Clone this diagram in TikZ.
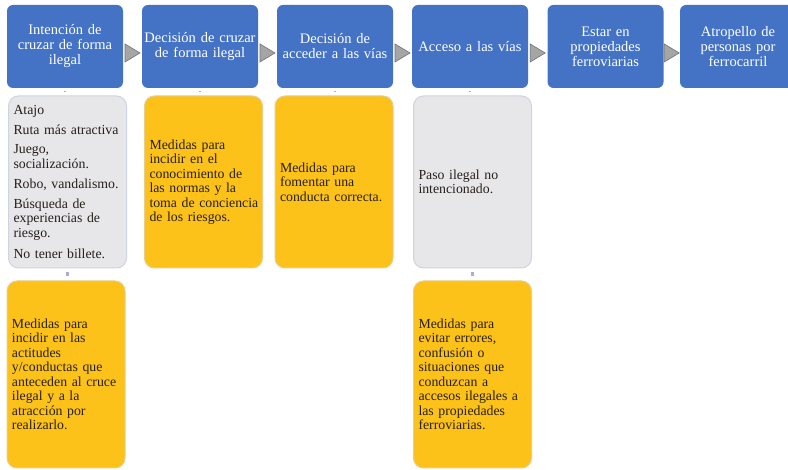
\documentclass[tikz,border=0pt]{standalone}
\usepackage{fontspec}
\setmainfont{Liberation Serif}
\newfontfamily\boxserif{Liberation Serif}
\newcommand\nohyph{\hyphenpenalty=10000\relax\exhyphenpenalty=10000\relax\hbadness=10000\relax}
\definecolor{topblue}{RGB}{68,114,196}
\definecolor{gold}{RGB}{252,194,25}
\definecolor{lgray}{RGB}{231,230,233}
\definecolor{edgegray}{RGB}{208,211,224}
\definecolor{edgegold}{RGB}{232,205,140}
\definecolor{trifill}{RGB}{165,165,165}
\definecolor{tridraw}{RGB}{115,115,115}
\definecolor{linkcol}{RGB}{172,172,214}
\definecolor{ink}{RGB}{38,32,26}
\begin{document}
\begin{tikzpicture}[x=1pt,y=-1pt,
  topbox/.style={fill=topblue, draw=none, rounded corners=6pt,
    minimum width=116pt, minimum height=83pt, text width=116pt,
    align=center, text=white, inner sep=0pt,
    font=\boxserif\fontsize{14.5}{15}\selectfont\nohyph},
  lowbox/.style={rounded corners=10pt, line width=1pt,
    minimum width=118pt, text width=108pt, align=left, text=ink,
    inner sep=0pt,
    font=\boxserif\fontsize{13.8}{14.5}\selectfont\nohyph},
  graybox/.style={lowbox, fill=lgray, draw=edgegray, minimum height=172pt},
  goldbox/.style={lowbox, fill=gold, draw=edgegold, minimum height=172pt},
  tallgold/.style={lowbox, fill=gold, draw=edgegold, minimum height=187pt},
  linkline/.style={draw=linkcol, line width=2.6pt},
  arrowtri/.style={fill=trifill, draw=tridraw, line width=0.6pt, line join=miter}
]
\useasboundingbox (0,0) rectangle (788,470);
\clip (0,0) rectangle (788,470);
\fill[white] (0,0) rectangle (788,470);

% top row
\node[topbox] (t1) at (65,46.5) {Intención de\\cruzar de forma\\ilegal};
\node[topbox] (t2) at (200,46.5) {Decisión de cruzar\\de forma ilegal};
\node[topbox] (t3) at (335,46.5) {Decisión de\\acceder a las vías};
\node[topbox] (t4) at (470,46.5) {Acceso a las vías};
\node[topbox] (t5) at (605.5,46.5) {Estar en\\propiedades\\ferroviarias};
\node[topbox] (t6) at (738,46.5) {Atropello de\\personas por\\ferrocarril};

% triangles between top boxes
\foreach \a/\b in {t1/t2,t2/t3,t3/t4,t4/t5,t5/t6}{
  \path (\a.east) -- (\b.west) coordinate[pos=0.5] (m\a);
  \draw[arrowtri] ([shift={(-7.5,-2.5)}]m\a) -- ([shift={(-7.5,15.5)}]m\a)
    -- ([shift={(7.5,6.5)}]m\a) -- cycle;
}

% second row
\node[graybox] (g1) at (67.5,182) {Atajo\\[5.5pt]
  Ruta~más~atractiva\\[5pt]
  Juego,\\socialización.\\[5.5pt]
  Robo,~vandalismo.\\[5.5pt]
  Búsqueda de\\experiencias~de\\riesgo.\\[6.5pt]
  No~tener~billete.};
\node[goldbox] (y2) at (203.5,182) {Medidas para\\incidir en el\\conocimiento~de\\las~normas~y~la\\toma~de~conciencia\\de~los~riesgos.};
\node[goldbox] (y3) at (334,182) {Medidas para\\fomentar una\\conducta~correcta.};
\node[graybox] (g4) at (472.5,182) {Paso ilegal no\\intencionado.};

% third row
\node[tallgold] (b1) at (66,374.5) {Medidas para\\incidir en las\\actitudes\\y/conductas~que\\anteceden~al~cruce\\ilegal y a la\\atracción por\\realizarlo.};
\node[tallgold] (b4) at (472.5,374.5) {Medidas para\\evitar errores,\\confusión o\\situaciones~que\\conduzcan a\\accesos~ilegales~a\\las~propiedades\\ferroviarias.};

% connectors
\draw[linkline, shorten <=3pt, shorten >=3pt] (t1.south) -- (t1.south |- g1.north);
\draw[linkline, shorten <=3pt, shorten >=3pt] (t2.south) -- (t2.south |- y2.north);
\draw[linkline, shorten <=3pt, shorten >=3pt] (t3.south) -- (t3.south |- y3.north);
\draw[linkline, shorten <=3pt, shorten >=3pt] (t4.south) -- (t4.south |- g4.north);
\draw[linkline, shorten <=4pt, shorten >=4pt] (g1.south) -- (g1.south |- b1.north);
\draw[linkline, shorten <=4pt, shorten >=4pt] (g4.south) -- (g4.south |- b4.north);
\end{tikzpicture}
\end{document}
